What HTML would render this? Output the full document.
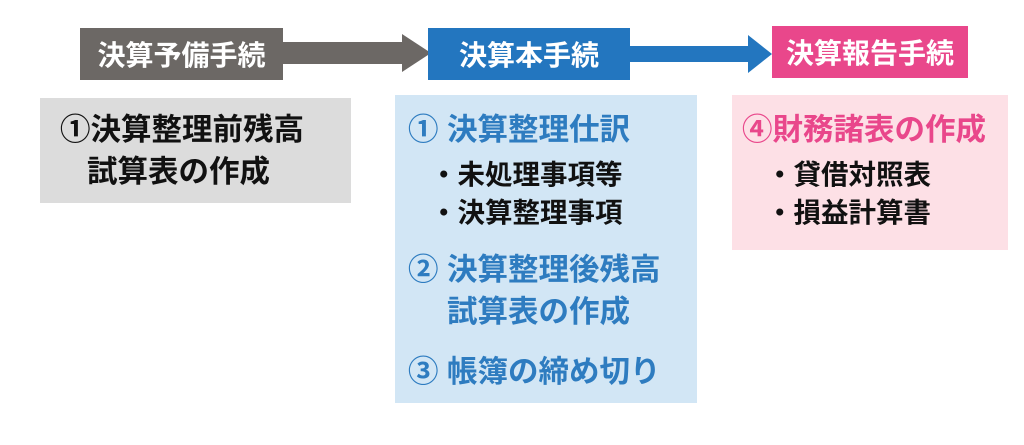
<!DOCTYPE html>
<html><head><meta charset="utf-8"><style>
body{margin:0;width:1024px;height:445px;background:#fff;position:relative;overflow:hidden;font-family:"Liberation Sans","Noto Sans CJK JP",sans-serif;font-weight:bold}
.a{position:absolute}
.h{position:absolute;color:#fff;font-size:28px;display:flex;align-items:center;justify-content:center}
.t{position:absolute;white-space:nowrap;line-height:1}
</style></head><body>
<svg class="a" style="left:0;top:0" width="1024" height="445">
<polygon points="280,42 402,42 402,34 431,53 402,72 402,64 280,64" fill="#6c6865"/>
<polygon points="628,46 748,46 748,35 772,54 748,73 748,62 628,62" fill="#2376bf"/>
</svg>
<div class="h" style="left:80px;top:28px;width:203px;height:52px;background:#6c6865">決算予備手続</div>
<div class="h" style="left:428px;top:28px;width:202px;height:52px;background:#2376bf">決算本手続</div>
<div class="h" style="left:772px;top:26px;width:196px;height:52px;background:#e9478b">決算報告手続</div>
<div class="a" style="left:40px;top:98px;width:311px;height:105px;background:#dcdcdc"></div>
<div class="t" style="left:60px;top:115px;font-size:30.5px;color:#111">①決算整理前残高</div>
<div class="t" style="left:87px;top:157px;font-size:30.5px;color:#111">試算表の作成</div>
<div class="a" style="left:395px;top:95px;width:302px;height:308px;background:#d2e6f5"></div>
<div class="t" style="left:408px;top:115px;font-size:30.5px;color:#2e7cc0">① 決算整理仕訳</div>
<div class="t" style="left:430px;top:161px;font-size:27.5px;color:#111">・未処理事項等</div>
<div class="t" style="left:430px;top:199px;font-size:27.5px;color:#111">・決算整理事項</div>
<div class="t" style="left:408px;top:255px;font-size:30.5px;color:#2e7cc0">② 決算整理後残高</div>
<div class="t" style="left:447px;top:297px;font-size:30.5px;color:#2e7cc0">試算表の作成</div>
<div class="t" style="left:408px;top:357px;font-size:30.5px;color:#2e7cc0">③ 帳簿の締め切り</div>
<div class="a" style="left:732px;top:95px;width:276px;height:155px;background:#fde0e6"></div>
<div class="t" style="left:742px;top:115px;font-size:30.5px;color:#e9478b">④財務諸表の作成</div>
<div class="t" style="left:766px;top:161px;font-size:27.5px;color:#111">・貸借対照表</div>
<div class="t" style="left:766px;top:199px;font-size:27.5px;color:#111">・損益計算書</div>
</body></html>
